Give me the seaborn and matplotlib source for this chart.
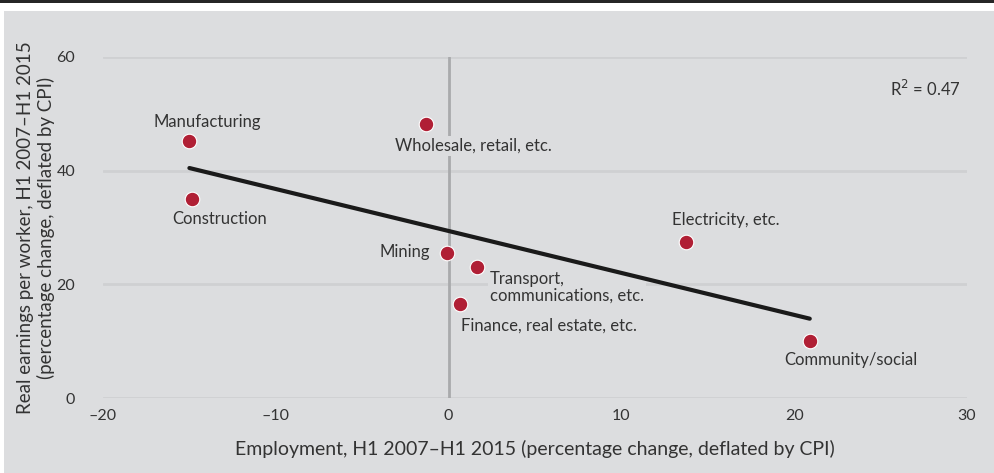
import numpy as np
import pandas as pd
import matplotlib
matplotlib.use("Agg")
import matplotlib.pyplot as plt
import seaborn as sns
from matplotlib.patches import Rectangle

# data
sectors = ["Manufacturing", "Construction", "Wholesale, retail, etc.", "Mining",
           "Transport,\ncommunications, etc.", "Finance, real estate, etc.",
           "Electricity, etc.", "Community/social"]
employment = [-15.0, -14.85, -1.3, -0.1, 1.65, 0.65, 13.75, 20.9]
earnings = [45.2, 35.0, 48.2, 25.5, 23.0, 16.5, 27.5, 10.0]
r2_text = "R$^2$ = 0.47"

x_ticks = [-20, -10, 0, 10, 20, 30]
y_ticks = [0, 20, 40, 60]

df = pd.DataFrame({"sector": sectors, "employment": employment, "earnings": earnings})

BG = "#dcdddf"
DOT = "#b01f35"
TXT = "#333333"

sns.set_style("white")
plt.rcParams["font.family"] = ["Lato", "DejaVu Sans"]

fig = plt.figure(figsize=(9.94, 4.73), dpi=100, facecolor="white")
fig.add_artist(Rectangle((4 / 994, 0), 1, 1 - 11 / 473, transform=fig.transFigure,
                         facecolor=BG, edgecolor="none", zorder=0))
fig.add_artist(Rectangle((0, 1 - 3 / 473), 1, 3 / 473, transform=fig.transFigure,
                         facecolor="#262626", edgecolor="none", zorder=0))

ax = fig.add_axes([103 / 994, 1 - 398 / 473, 864 / 994, 341 / 473])
ax.set_facecolor("none")
for s in ax.spines.values():
    s.set_visible(False)

for y in y_ticks:
    ax.axhline(y, color="#cfd0d2", lw=2, zorder=1)
ax.axvline(0, color="#a9aaac", lw=2, zorder=1)

sns.regplot(data=df, x="employment", y="earnings", ax=ax, ci=None, scatter=False,
            line_kws=dict(color="#1a1a1a", lw=3, zorder=3))
sns.scatterplot(data=df, x="employment", y="earnings", ax=ax, color=DOT, s=110,
                edgecolor="white", linewidth=0.8, zorder=4)

# label offsets from each dot in pixels (right, up) and alignment
offsets = [(18, 19, "center"), (28, -20, "center"), (-31, -22, "left"), (-17, 1, "right"),
           (13, -20, "left"), (1, -21, "left"), (40, 22, "center"), (-26, -19, "left")]
for name, xv, yv, (dx, dy, ha) in zip(sectors, employment, earnings, offsets):
    ax.annotate(name, (xv, yv), xytext=(dx, dy), textcoords="offset pixels",
                ha=ha, va="center", fontsize=12, color=TXT, multialignment="left",
                linespacing=1.05, zorder=2,
                bbox=dict(boxstyle="square,pad=0.1", facecolor=BG, edgecolor="none"))

ax.text(0.993, 0.905, r2_text, transform=ax.transAxes, ha="right", va="center",
        fontsize=12, color=TXT)

ax.set_xlim(-20, 30)
ax.set_ylim(0, 60)
ax.set_xticks(x_ticks)
ax.set_xticklabels(["\u201320", "\u201310", "0", "10", "20", "30"])
ax.set_yticks(y_ticks)
ax.tick_params(axis="both", length=0, labelsize=11.5, labelcolor=TXT)
ax.tick_params(axis="x", pad=8)
ax.tick_params(axis="y", pad=20)

ax.set_xlabel("Employment, H1 2007\u2013H1 2015 (percentage change, deflated by CPI)",
              fontsize=14, color=TXT, labelpad=12)
ax.set_ylabel("Real earnings per worker, H1 2007\u2013H1 2015\n(percentage change, deflated by CPI)",
              fontsize=13.5, color=TXT, labelpad=1, linespacing=1.2)

fig.savefig("out.png", dpi=100, facecolor=fig.get_facecolor())
